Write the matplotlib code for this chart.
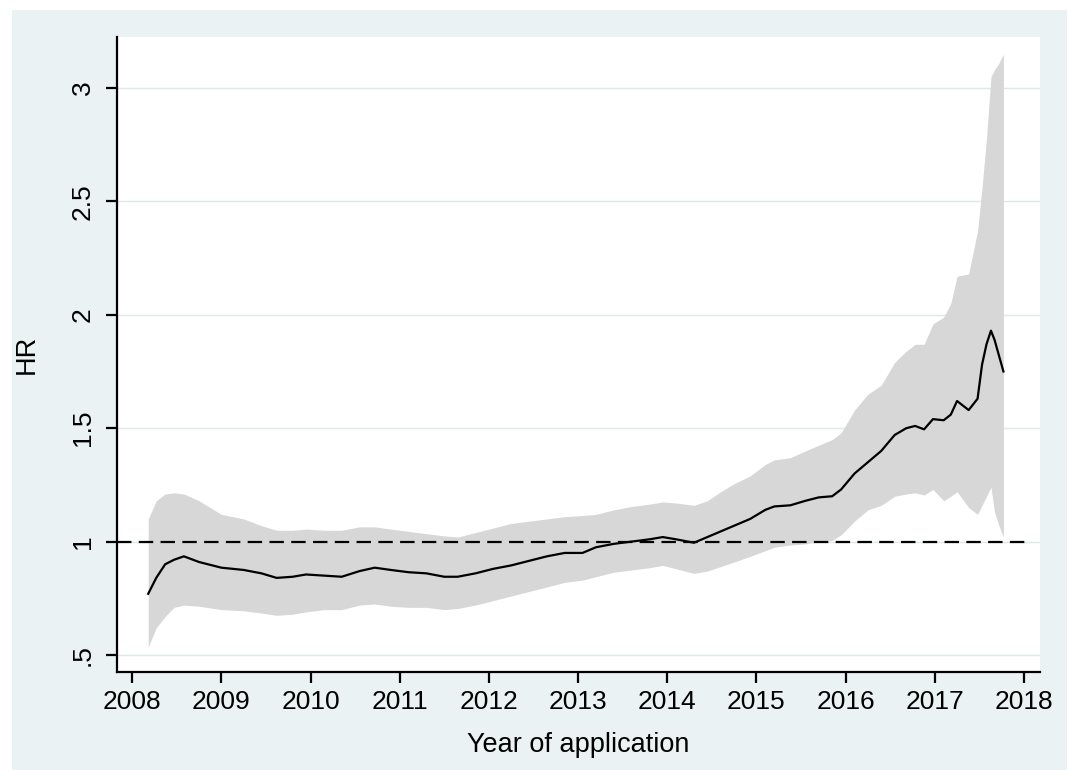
import numpy as np
import matplotlib
matplotlib.use('Agg')
import matplotlib.pyplot as plt
from matplotlib.patches import Rectangle

plt.rcParams['font.family'] = ['Liberation Sans', 'DejaVu Sans']

# year of application (decimal years)
year = [2008.18, 2008.27, 2008.37, 2008.47, 2008.58, 2008.75, 2009.0, 2009.25, 2009.45, 2009.62,
        2009.8, 2009.95, 2010.15, 2010.35, 2010.55, 2010.72, 2010.9, 2011.1, 2011.3, 2011.5,
        2011.65, 2011.85, 2012.05, 2012.25, 2012.45, 2012.65, 2012.85, 2013.05, 2013.2, 2013.4,
        2013.6, 2013.8, 2013.95, 2014.1, 2014.3, 2014.45, 2014.6, 2014.75, 2014.93, 2015.1,
        2015.2, 2015.38, 2015.55, 2015.7, 2015.85, 2015.95, 2016.1, 2016.25, 2016.4, 2016.55,
        2016.68, 2016.78, 2016.88, 2016.98, 2017.1, 2017.18, 2017.25, 2017.38, 2017.48, 2017.53,
        2017.58, 2017.63, 2017.67, 2017.72, 2017.77]

hr = [0.77, 0.84, 0.90, 0.92, 0.935, 0.91, 0.885, 0.875, 0.86, 0.84,
      0.845, 0.855, 0.85, 0.845, 0.87, 0.885, 0.875, 0.865, 0.86, 0.845,
      0.845, 0.86, 0.88, 0.895, 0.915, 0.935, 0.95, 0.95, 0.975, 0.99,
      1.0, 1.01, 1.02, 1.01, 0.995, 1.02, 1.045, 1.07, 1.10, 1.14,
      1.155, 1.16, 1.18, 1.195, 1.20, 1.23, 1.30, 1.35, 1.40, 1.47,
      1.50, 1.51, 1.495, 1.54, 1.535, 1.56, 1.62, 1.58, 1.63, 1.78,
      1.87, 1.93, 1.89, 1.82, 1.75]

hr_upper = [1.10, 1.18, 1.21, 1.215, 1.21, 1.18, 1.12, 1.10, 1.07, 1.05,
            1.05, 1.055, 1.05, 1.05, 1.065, 1.065, 1.055, 1.045, 1.035, 1.025,
            1.02, 1.04, 1.06, 1.08, 1.09, 1.10, 1.11, 1.115, 1.12, 1.14,
            1.155, 1.165, 1.175, 1.17, 1.16, 1.18, 1.22, 1.255, 1.29, 1.34,
            1.36, 1.37, 1.40, 1.425, 1.45, 1.48, 1.58, 1.65, 1.69, 1.79,
            1.84, 1.87, 1.87, 1.96, 1.99, 2.05, 2.17, 2.18, 2.37, 2.56,
            2.78, 3.05, 3.08, 3.11, 3.15]

hr_lower = [0.535, 0.62, 0.67, 0.71, 0.72, 0.715, 0.70, 0.695, 0.685, 0.675,
            0.68, 0.69, 0.70, 0.70, 0.72, 0.725, 0.715, 0.71, 0.71, 0.70,
            0.705, 0.72, 0.74, 0.76, 0.78, 0.80, 0.82, 0.83, 0.845, 0.865,
            0.875, 0.885, 0.895, 0.88, 0.86, 0.87, 0.89, 0.91, 0.935, 0.96,
            0.975, 0.985, 0.99, 1.00, 1.005, 1.03, 1.09, 1.14, 1.16, 1.20,
            1.21, 1.215, 1.205, 1.23, 1.18, 1.20, 1.22, 1.15, 1.12, 1.16,
            1.20, 1.24, 1.13, 1.07, 1.02]

xticks = list(range(2008, 2019))
yticks = [0.5, 1, 1.5, 2, 2.5, 3]
ytick_labels = ['.5', '1', '1.5', '2', '2.5', '3']
ref_line = 1.0

fig = plt.figure(figsize=(10.68, 7.7), dpi=100)
fig.patch.set_facecolor('white')
fig.patches.append(Rectangle((12/1068, 0), 1055/1068, 760/770, transform=fig.transFigure,
                             facecolor='#eaf2f3', edgecolor='none', zorder=-10))

ax = fig.add_axes([117/1068, 98/770, 923/1068, 635/770])
ax.set_facecolor('white')

ax.fill_between(year, hr_lower, hr_upper, color='#d7d7d7', linewidth=0, zorder=2)
ax.plot(year, hr, color='black', linewidth=1.6, zorder=4)
ax.hlines(ref_line, 2007.83, 2018.05, colors='black', linewidth=1.6,
          linestyles=(0, (6.5, 3.3)), zorder=3)

ax.set_xlim(2007.83, 2018.18)
ax.set_ylim(0.425, 3.225)
ax.set_xticks(xticks)
ax.set_yticks(yticks)
ax.set_yticklabels(ytick_labels, rotation=90, va='center')

ax.grid(axis='y', color='#dde8ea', linewidth=1.0, zorder=1)
ax.set_axisbelow(True)

for s in ['top', 'right']:
    ax.spines[s].set_visible(False)
for s in ['left', 'bottom']:
    ax.spines[s].set_linewidth(1.6)

ax.tick_params(axis='both', labelsize=19, width=1.6, length=8, color='black')
ax.tick_params(axis='x', pad=5)
ax.tick_params(axis='y', pad=8)

ax.set_xlabel('Year of application', fontsize=19.5, labelpad=13)
ax.set_ylabel('HR', fontsize=19.5, labelpad=22)

fig.savefig('out.png', dpi=100, facecolor=fig.get_facecolor())
